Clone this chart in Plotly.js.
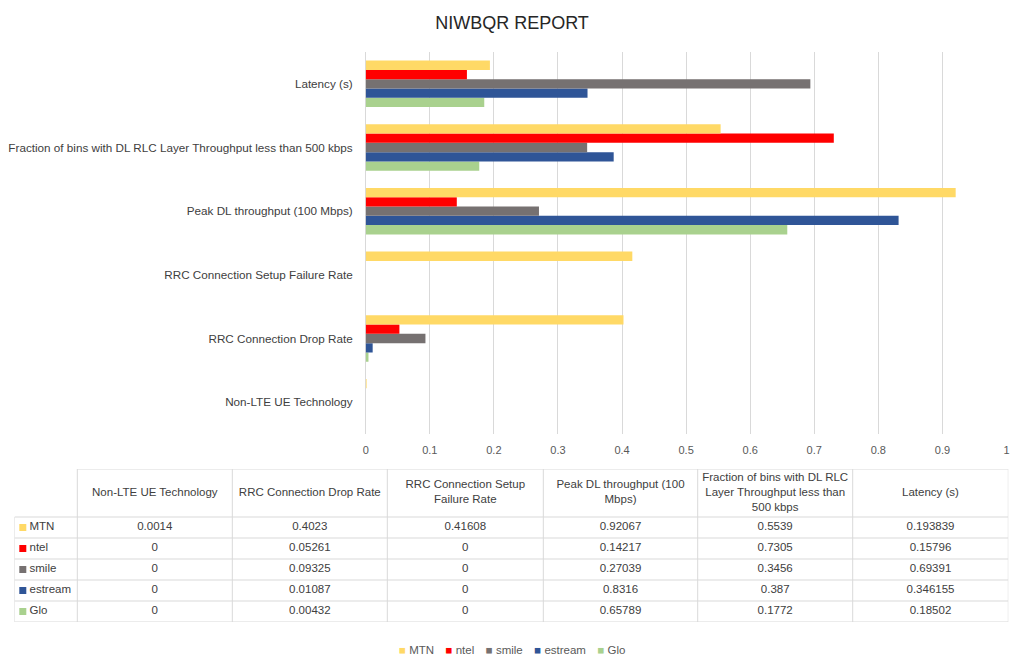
<!DOCTYPE html>
<html>
<head>
<meta charset="utf-8">
<script src="https://cdn.plot.ly/plotly-3.0.1.min.js"></script>
<style>html,body{margin:0;padding:0;background:#fff;}#chart{width:1024px;height:669px;}</style>
</head>
<body>
<div id="chart"></div>
<script>
// ---- data ----
const categories = [
  'Non-LTE UE Technology',
  'RRC Connection Drop Rate',
  'RRC Connection Setup Failure Rate',
  'Peak DL throughput (100 Mbps)',
  'Fraction of bins with DL RLC Layer Throughput less than 500 kbps',
  'Latency (s)'
];
const tableHeaders = [
  'Non-LTE UE Technology',
  'RRC Connection Drop Rate',
  'RRC Connection Setup<br>Failure Rate',
  'Peak DL throughput (100<br>Mbps)',
  'Fraction of bins with DL RLC<br>Layer Throughput less than<br>500 kbps',
  'Latency (s)'
];
const operators = ['MTN', 'ntel', 'smile', 'estream', 'Glo'];
const colors = ['#FFD966', '#FF0000', '#767171', '#2F5597', '#A9D18E'];
const MTN = [0.0014, 0.4023, 0.41608, 0.92067, 0.5539, 0.193839];
const ntel = [0, 0.05261, 0, 0.14217, 0.7305, 0.15796];
const smile = [0, 0.09325, 0, 0.27039, 0.3456, 0.69391];
const estream = [0, 0.01087, 0, 0.8316, 0.387, 0.346155];
const Glo = [0, 0.00432, 0, 0.65789, 0.1772, 0.18502];
const xTicks = [0, 0.1, 0.2, 0.3, 0.4, 0.5, 0.6, 0.7, 0.8, 0.9, 1];
const xTickLabels = ['0', '0.1', '0.2', '0.3', '0.4', '0.5', '0.6', '0.7', '0.8', '0.9', '1'];

const series = [MTN, ntel, smile, estream, Glo];
const FONT = 'Liberation Sans, Arial, sans-serif';

// ---- table geometry (layout only, in table-axis units = px) ----
const colBounds = [0, 62.8, 217.8, 372.8, 528.8, 683.2, 838.2, 993.8];
const headerH = 48, rowH = 21;
const rowBounds = [0, headerH];
for (let i = 1; i <= operators.length; i++) rowBounds.push(headerH + rowH * i);
const tableBottom = rowBounds[rowBounds.length - 1];

const traces = [];
// bars: add in reverse so MTN sits on top of each group
for (let i = operators.length - 1; i >= 0; i--) {
  traces.push({
    type: 'bar',
    orientation: 'h',
    name: operators[i],
    y: categories,
    x: series[i],
    marker: {color: colors[i]},
    showlegend: false,
    hoverinfo: 'x+name'
  });
}

const dataColCenters = [];
for (let j = 1; j < colBounds.length - 1; j++) dataColCenters.push((colBounds[j] + colBounds[j + 1]) / 2);

// table header text
traces.push({
  type: 'scatter', mode: 'text', xaxis: 'x2', yaxis: 'y2',
  x: dataColCenters, y: dataColCenters.map(() => headerH / 2),
  text: tableHeaders, textposition: 'middle center',
  textfont: {family: FONT, size: 11.5, color: '#404040'},
  showlegend: false, hoverinfo: 'skip'
});

// table value cells
const cx = [], cy = [], ct = [];
categories.forEach((c, j) => {
  series.forEach((s, i) => {
    cx.push(dataColCenters[j]);
    cy.push(headerH + rowH * i + rowH / 2);
    ct.push(String(s[j]));
  });
});
traces.push({
  type: 'scatter', mode: 'text', xaxis: 'x2', yaxis: 'y2',
  x: cx, y: cy, text: ct, textposition: 'middle center',
  textfont: {family: FONT, size: 11.5, color: '#404040'},
  showlegend: false, hoverinfo: 'skip'
});

// row labels: colour keys + names
const rowCenters = operators.map((n, i) => headerH + rowH * i + rowH / 2);
traces.push({
  type: 'scatter', mode: 'markers', xaxis: 'x2', yaxis: 'y2',
  x: operators.map(() => 8.3), y: rowCenters,
  marker: {symbol: 'square', size: 7, color: colors, line: {width: 0}},
  showlegend: false, hoverinfo: 'skip'
});
traces.push({
  type: 'scatter', mode: 'text', xaxis: 'x2', yaxis: 'y2',
  x: operators.map(() => 15), y: rowCenters,
  text: operators, textposition: 'middle right',
  textfont: {family: FONT, size: 11.5, color: '#404040'},
  showlegend: false, hoverinfo: 'skip'
});

// table borders as shapes on the table axes
const shapes = [];
colBounds.forEach((b, k) => {
  shapes.push({type: 'line', xref: 'x2', yref: 'y2', x0: b, x1: b,
    y0: k === 0 ? headerH : 0, y1: tableBottom, line: {color: '#d9d9d9', width: 1}});
});
rowBounds.forEach((b, k) => {
  shapes.push({type: 'line', xref: 'x2', yref: 'y2', y0: b, y1: b,
    x0: k === 0 ? colBounds[1] : 0, x1: colBounds[colBounds.length - 1], line: {color: '#d9d9d9', width: 1}});
});

const legendText = operators.map((n, i) =>
  '<span style="color:' + colors[i] + '">■</span>\u00a0' + n).join('\u2003');

const layout = {
  width: 1024,
  height: 669,
  margin: {l: 0, r: 0, t: 0, b: 0},
  paper_bgcolor: '#ffffff',
  plot_bgcolor: '#ffffff',
  font: {family: FONT, size: 11, color: '#404040'},
  title: {
    text: 'NIWBQR REPORT',
    font: {family: FONT, size: 18, color: '#262626'},
    x: 0.5, xanchor: 'center',
    y: 1 - 23 / 669, yanchor: 'middle'
  },
  barmode: 'group',
  bargap: 0.27,
  bargroupgap: 0,
  xaxis: {
    domain: [365.7 / 1024, 1006.5 / 1024],
    range: [0, 1],
    tickvals: xTicks,
    ticktext: xTickLabels,
    showgrid: true,
    gridcolor: '#d9d9d9',
    gridwidth: 1,
    zeroline: true,
    zerolinecolor: '#d9d9d9',
    zerolinewidth: 1,
    showline: false,
    ticks: '',
    ticklabelstandoff: 8,
    tickfont: {family: FONT, size: 11, color: '#595959'},
    fixedrange: true
  },
  yaxis: {
    domain: [1 - 434 / 669, 1 - 52 / 669],
    type: 'category',
    categoryorder: 'array',
    categoryarray: categories,
    showgrid: false,
    zeroline: false,
    showline: false,
    ticks: '',
    ticklabelstandoff: 12,
    tickfont: {family: FONT, size: 11.7, color: '#404040'},
    fixedrange: true
  },
  xaxis2: {
    domain: [14.5 / 1024, 1008.3 / 1024],
    range: [0, colBounds[colBounds.length - 1]],
    anchor: 'y2', visible: false, fixedrange: true
  },
  yaxis2: {
    domain: [1 - (469 + tableBottom) / 669, 1 - 469 / 669],
    range: [tableBottom, 0],
    anchor: 'x2', visible: false, fixedrange: true
  },
  shapes: shapes,
  annotations: [{
    text: legendText,
    showarrow: false,
    xref: 'paper', yref: 'paper',
    x: 0.5, xanchor: 'center',
    y: 1 - 650 / 669, yanchor: 'middle',
    font: {family: FONT, size: 11.5, color: '#595959'}
  }]
};

Plotly.newPlot('chart', traces, layout, {displayModeBar: false, staticPlot: true});
</script>
</body>
</html>
